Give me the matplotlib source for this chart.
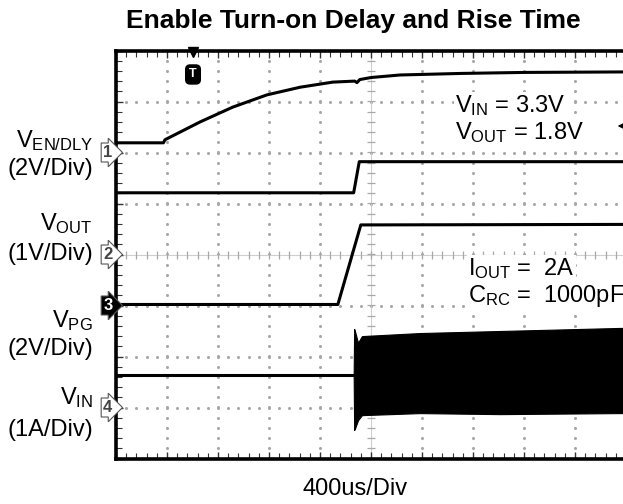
import numpy as np
import matplotlib
matplotlib.use("Agg")
import matplotlib.pyplot as plt
from matplotlib.ticker import MultipleLocator

plt.rcParams["font.family"] = ["Liberation Sans", "DejaVu Sans"]
plt.rcParams["mathtext.fontset"] = "custom"
plt.rcParams["mathtext.rm"] = "Liberation Sans"
plt.rcParams["mathtext.default"] = "regular"

W, H = 623, 504

# time in us (400us/div, screen starts at 0), levels in screen divisions (0 = centre)
en_t = [0, 372, 384, 660, 916, 1184, 1444, 1700, 1872, 1890, 1912, 2000, 2228, 2700, 3200, 4000]
en_v = [2.19, 2.19, 2.25, 2.60, 2.89, 3.13, 3.28, 3.38, 3.40, 3.37, 3.43, 3.47, 3.52, 3.55, 3.57, 3.58]

pg_t = [0, 1864, 1908, 4000]
pg_v = [1.21, 1.21, 1.82, 1.82]

vout_t = [0, 1740, 1920, 4000]
vout_v = [-0.98, -0.98, 0.58, 0.59]

iin_t = [0, 1864]
iin_v = [-2.36, -2.36]

# switching envelope of input current after start-up
sw_t = [1864, 1868, 1876, 1898, 1929, 2384, 3012, 3953, 4000]
sw_top = [-2.36, -1.46, -1.52, -1.73, -1.60, -1.54, -1.50, -1.44, -1.44]
sw_bot = [-2.36, -3.44, -3.40, -3.25, -3.15, -3.11, -3.13, -3.11, -3.11]

trig_time = 604       # T marker (us)
trig_level = 2.52     # trigger level arrow (div)

US_PER_DIV = 400

fig = plt.figure(figsize=(W / 100, H / 100), dpi=100)
ax = fig.add_axes([116 / W, 1 - 458.5 / H, 510 / W, 408 / H])
ax.set_xlim(0, 10)
ax.set_ylim(-4, 4)


def px(x, y):
    return (x / W, 1 - y / H)


def div(t):
    return np.asarray(t) / US_PER_DIV


# scope graticule
gray = "#a8a8a8"
steps_y = np.arange(-4, 4.01, 0.2)
steps_x = np.arange(0, 10.01, 0.2)
for gx in range(1, 10):
    if gx == 5:
        continue
    ax.plot(np.full_like(steps_y, gx), steps_y, ls="none", marker="o", ms=1.2, color=gray, zorder=1)
for gy in range(-3, 4):
    if gy == 0:
        continue
    ax.plot(steps_x, np.full_like(steps_x, gy), ls="none", marker="o", ms=1.2, color=gray, zorder=1)
ax.axvline(5, color="#cfcfcf", lw=0.8, zorder=1)
ax.axhline(0, color="#cfcfcf", lw=0.8, zorder=1)
ax.plot(np.full_like(steps_y, 5), steps_y, ls="none", marker="_", ms=6, mew=0.9, color=gray, zorder=1)
ax.plot(steps_x, np.zeros_like(steps_x), ls="none", marker="|", ms=6, mew=0.9, color=gray, zorder=1)

ax.xaxis.set_major_locator(MultipleLocator(1))
ax.xaxis.set_minor_locator(MultipleLocator(0.2))
ax.yaxis.set_major_locator(MultipleLocator(1))
ax.yaxis.set_minor_locator(MultipleLocator(0.2))
ax.tick_params(which="both", direction="in", top=True, bottom=True, left=True, right=False,
               labelbottom=False, labelleft=False, color="#333333")
ax.tick_params(which="major", length=5, width=1)
ax.tick_params(which="minor", length=4, width=0.8)
for side in ["left", "top", "bottom"]:
    ax.spines[side].set_linewidth(2.6)
ax.spines["right"].set_visible(False)

# traces
ax.plot(div(en_t), en_v, color="black", lw=2.2, zorder=4)
ax.plot(div(pg_t), pg_v, color="black", lw=2.2, zorder=4)
ax.plot(div(vout_t), vout_v, color="black", lw=2.2, zorder=4)
ax.plot(div(iin_t), iin_v, color="black", lw=2.2, zorder=4)
ax.fill_between(div(sw_t), sw_bot, sw_top, color="black", lw=0.8, zorder=4)

# trigger markers
ax.plot(div([trig_time]), [3.97], marker="v", ms=7, color="black", clip_on=False, zorder=6)
ax.text(div(trig_time), 3.53, "T", ha="center", va="center", fontsize=9, fontweight="bold",
        color="white", zorder=6,
        bbox=dict(boxstyle="round,pad=0.28,rounding_size=0.35", fc="black", ec="black"))
ax.annotate("", xy=(9.78, trig_level), xytext=(10.0, trig_level),
            arrowprops=dict(arrowstyle="-|>", color="black", lw=1.0, mutation_scale=9), zorder=6)

# condition notes
box = dict(fc="white", ec="none", pad=1)
note_kw = dict(transform=fig.transFigure, fontsize=17, ha="left", va="baseline", bbox=box, zorder=5)
fig.text(*px(455, 112), "V$_{IN}$ = 3.3V", **note_kw)
fig.text(*px(455, 139), "V$_{OUT}$ = 1.8V", **note_kw)
fig.text(*px(468, 275), "I$_{OUT}$ =  2A", **note_kw)
fig.text(*px(468, 302), "C$_{RC}$ =  1000pF", **note_kw)

# channel labels
lab_kw = dict(fontsize=17, ha="right")
fig.text(*px(93, 147), "V$_{EN/DLY}$", va="baseline", **lab_kw)
fig.text(*px(93, 169), "(2V/Div)", va="center", **lab_kw)
fig.text(*px(93, 230), "V$_{OUT}$", va="baseline", **lab_kw)
fig.text(*px(93, 254), "(1V/Div)", va="center", **lab_kw)
fig.text(*px(93, 327), "V$_{PG}$", va="baseline", **lab_kw)
fig.text(*px(93, 349), "(2V/Div)", va="center", **lab_kw)
fig.text(*px(93, 404), "V$_{IN}$", va="baseline", **lab_kw)
fig.text(*px(93, 430), "(1A/Div)", va="center", **lab_kw)

# channel reference markers
for ch, y, fc, tc in [("1", 2, "white", "#444444"), ("2", 0, "white", "#444444"),
                      ("3", -1, "black", "white"), ("4", -3, "white", "#444444")]:
    ax.text(-0.07, y, ch, ha="right", va="center", fontsize=12, fontweight="bold", color=tc,
            clip_on=False, zorder=6,
            bbox=dict(boxstyle="rarrow,pad=0.12", fc=fc, ec="#555555", lw=0.8))

fig.text(*px(353, 28), "Enable Turn-on Delay and Rise Time", ha="center", va="baseline",
         fontsize=19, fontweight="bold")
fig.text(*px(355, 489), "400us/Div", ha="center", va="center", fontsize=17)

fig.savefig("out.png", dpi=100)
